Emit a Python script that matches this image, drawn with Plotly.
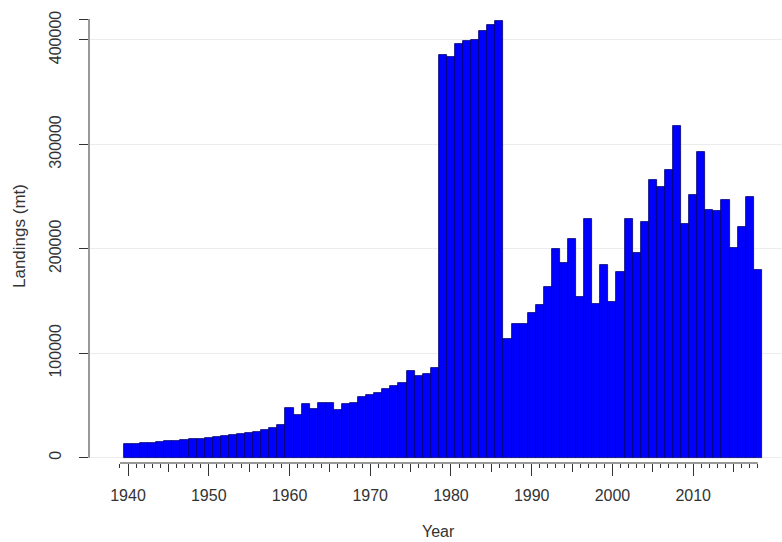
import plotly.graph_objects as go

# Annual landings (metric tonnes), 1940-2018
years = list(range(1940, 2019))
landings = [
    12800, 13300, 13800, 14400, 15000, 15600, 16200, 16900, 17600, 18300,   # 1940s
    19100, 19900, 20800, 21700, 22700, 23800, 25000, 26400, 28000, 31000,   # 1950s
    47200, 41200, 51700, 47000, 52300, 52300, 46000, 51000, 52300, 58000,   # 1960s
    59600, 61800, 66000, 68200, 71400, 82800, 77800, 79700, 86100, 386000,  # 1970s
    384000, 396500, 399000, 400000, 408500, 414500, 418000, 113700, 128000, 128000,  # 1980s
    138200, 146500, 163000, 199600, 186000, 209200, 154100, 228200, 147100, 184600,  # 1990s
    149300, 178000, 228800, 196400, 225700, 265500, 259100, 275000, 317300, 223500,  # 2000s
    251100, 292500, 236800, 236200, 246700, 201100, 220900, 249800, 179600,          # 2010s
]

y_ticks = [0, 100000, 200000, 300000, 400000, 420000]
y_tick_text = ["0", "100000", "200000", "300000", "400000", ""]
x_major = list(range(1940, 2011, 10))
x_mid = list(range(1945, 2016, 10))
x_minor = list(range(1939, 2019))

x_range = [1935.17, 2021.0]
y_range = [-5074, 420000]
ink = "#333333"
font_family = "Liberation Sans, Arial, sans-serif"

fig = go.Figure()
fig.add_trace(go.Bar(
    x=years, y=landings, width=1,
    marker=dict(color="#0000ff", line=dict(color="#00006e", width=0.8)),
    hoverinfo="x+y", showlegend=False,
))
# carrier trace for the 5-year tick axis
fig.add_trace(go.Scatter(
    x=years, y=landings, xaxis="x2", mode="lines",
    line=dict(width=0), opacity=0, hoverinfo="skip", showlegend=False,
))

fig.update_layout(
    width=782, height=542,
    margin=dict(l=89, r=0, t=19, b=79),
    plot_bgcolor="white", paper_bgcolor="white",
    font=dict(family=font_family, size=16, color=ink),
    bargap=0,
    xaxis=dict(
        range=x_range, showgrid=False, zeroline=False, showline=False,
        tickmode="array", tickvals=x_major, ticktext=[str(v) for v in x_major],
        ticks="outside", ticklen=12, tickwidth=1, tickcolor=ink,
        ticklabelstandoff=6,
        minor=dict(tickmode="array", tickvals=x_minor, ticks="outside",
                   ticklen=4, tickwidth=1, tickcolor=ink),
        tickfont=dict(size=16, color=ink),
    ),
    xaxis2=dict(
        range=x_range, overlaying="x", anchor="y", side="bottom",
        showgrid=False, zeroline=False, showline=False,
        tickmode="array", tickvals=x_mid, showticklabels=False,
        ticks="outside", ticklen=8, tickwidth=1, tickcolor=ink,
    ),
    yaxis=dict(
        range=y_range, showgrid=True, gridcolor="#ececec", gridwidth=1,
        zeroline=False, showline=False,
        tickmode="array", tickvals=y_ticks, ticktext=y_tick_text,
        ticks="outside", ticklen=9, tickwidth=1, tickcolor=ink,
        tickangle=-90, ticklabelstandoff=12,
        tickfont=dict(size=16, color=ink),
    ),
)

# axis lines spanning only the tick range
fig.add_shape(type="line", xref="x", yref="paper",
              x0=x_minor[0], x1=x_minor[-1], y0=0, y1=0,
              line=dict(color=ink, width=1))
fig.add_shape(type="line", xref="paper", yref="y",
              x0=0, x1=0, y0=y_ticks[0], y1=y_ticks[-1],
              line=dict(color=ink, width=1))

fig.add_annotation(text="Year", xref="paper", yref="paper",
                   x=0.505, y=(463 - 531) / 444, xanchor="center", yanchor="middle",
                   showarrow=False, font=dict(size=16, color=ink))
fig.add_annotation(text="Landings (mt)", xref="paper", yref="paper",
                   x=(19 - 89) / 693, y=(463 - 236) / 444,
                   xanchor="center", yanchor="middle", textangle=-90,
                   showarrow=False, font=dict(size=17, color=ink))

fig.write_html("out.html")
